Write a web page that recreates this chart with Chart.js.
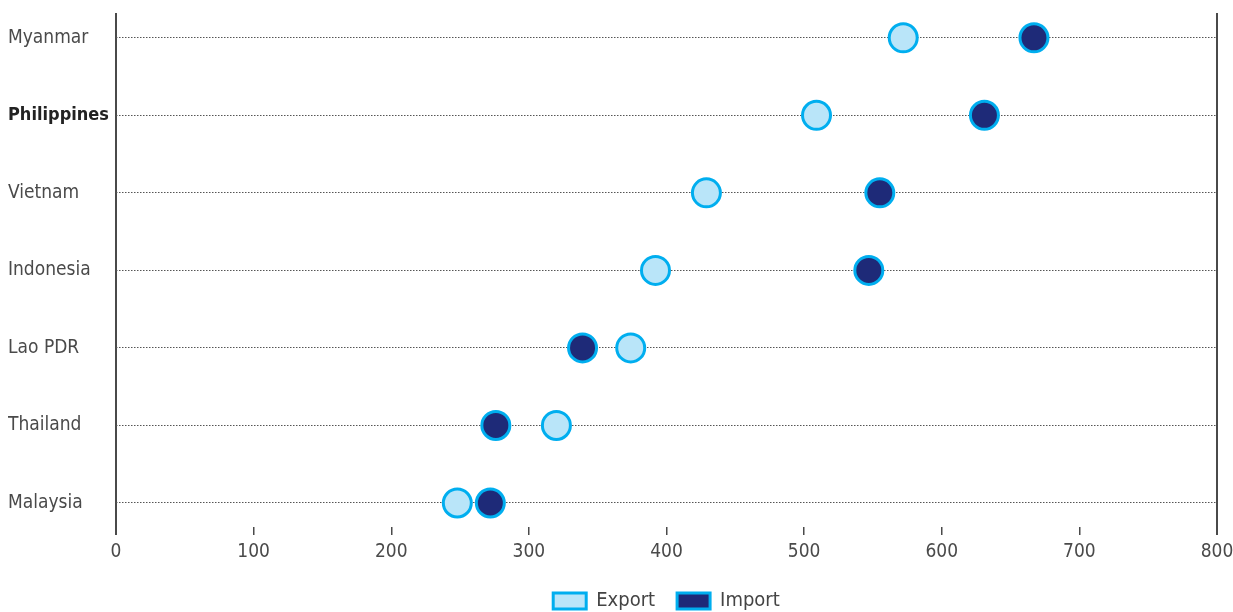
<!DOCTYPE html>
<html>
<head>
<meta charset="utf-8">
<script src="https://cdn.jsdelivr.net/npm/chart.js@4.4.1/dist/chart.umd.min.js"></script>
<style>
  html, body { margin: 0; padding: 0; background: #ffffff; }
  #wrap { width: 1233px; height: 612px; position: relative; }
</style>
</head>
<body>
<div id="wrap"><canvas id="c"></canvas></div>
<script>
const categories = ["Myanmar", "Philippines", "Vietnam", "Indonesia", "Lao PDR", "Thailand", "Malaysia"];
const exportValues = [572, 509, 429, 392, 374, 320, 248];
const importValues = [667, 631, 555, 547, 339, 276, 272];
const xTickValues = [0, 100, 200, 300, 400, 500, 600, 700, 800];
const boldCategory = "Philippines";

const FONT = "'Liberation Sans Narrow', 'DejaVu Sans Condensed', 'Roboto', sans-serif";

const toPoints = vals => vals.map((v, i) => ({ x: v, y: i }));
const isEdge = ctx => !!(ctx && ctx.tick && (ctx.tick.value === 0 || ctx.tick.value === 800));
const isBold = ctx => !!(ctx && ctx.tick && categories[ctx.tick.value] === boldCategory);

const LEGEND_ITEM_CENTER = 601;

new Chart(document.getElementById('c'), {
  type: 'scatter',
  data: {
    datasets: [
      {
        label: 'Export',
        data: toPoints(exportValues),
        backgroundColor: '#b9e5f9',
        borderColor: '#00aeef',
        borderWidth: 3,
        pointRadius: 14,
        pointHoverRadius: 14
      },
      {
        label: 'Import',
        data: toPoints(importValues),
        backgroundColor: '#1e2a78',
        borderColor: '#00aeef',
        borderWidth: 3,
        pointRadius: 14,
        pointHoverRadius: 14
      }
    ]
  },
  options: {
    responsive: true,
    maintainAspectRatio: false,
    animation: false,
    layout: { autoPadding: false, padding: { left: 8, right: 16, top: 13, bottom: 0 } },
    plugins: {
      tooltip: { enabled: false },
      legend: {
        position: 'bottom',
        labels: {
          boxWidth: 33,
          boxHeight: 16,
          padding: 22,
          color: '#444',
          font: { family: FONT, size: 20 }
        }
      }
    },
    scales: {
      x: {
        type: 'linear',
        min: 0,
        max: 800,
        afterBuildTicks: s => { s.ticks = xTickValues.map(v => ({ value: v })); },
        afterFit: s => { s.height = 33; s.paddingLeft = 0; s.paddingRight = 0; },
        border: { display: false },
        grid: {
          color: ctx => isEdge(ctx) ? '#4a4a4a' : 'rgba(0,0,0,0)',
          tickColor: '#4a4a4a',
          lineWidth: ctx => isEdge(ctx) ? 2 : 1.5,
          tickLength: 8,
          drawTicks: true
        },
        ticks: {
          padding: 6,
          color: '#4a4a4a',
          maxRotation: 0,
          font: { family: FONT, size: 19 }
        }
      },
      y: {
        type: 'linear',
        reverse: true,
        min: -0.32,
        max: 6.31,
        afterBuildTicks: s => { s.ticks = categories.map((c, i) => ({ value: i })); },
        afterFit: s => { s.width = 108; s.paddingTop = 0; s.paddingBottom = 0; },
        border: { display: false, dash: [1.5, 1.5] },
        grid: {
          color: '#555',
          lineWidth: 1,
          drawTicks: false
        },
        ticks: {
          crossAlign: 'far',
          padding: 0,
          color: ctx => isBold(ctx) ? '#222' : '#4a4a4a',
          font: ctx => ({ family: FONT, size: isBold(ctx) ? 18 : 19, weight: isBold(ctx) ? 'bold' : 'normal' }),
          callback: v => categories[v]
        }
      }
    }
  },
  plugins: [{
    id: 'placeLegend',
    afterLayout: chart => {
      const lg = chart.legend;
      if (lg && chart.chartArea) {
        lg.left = chart.chartArea.left;
        lg.right = chart.chartArea.right;
        const p = lg.options.labels.padding;
        const fs = lg.options.labels.font.size;
        const itemH = Math.max(fs, lg.options.labels.boxHeight);
        lg.top = LEGEND_ITEM_CENTER - p - itemH / 2;
        lg.bottom = lg.top + lg.height;
      }
    }
  }]
});
</script>
</body>
</html>
